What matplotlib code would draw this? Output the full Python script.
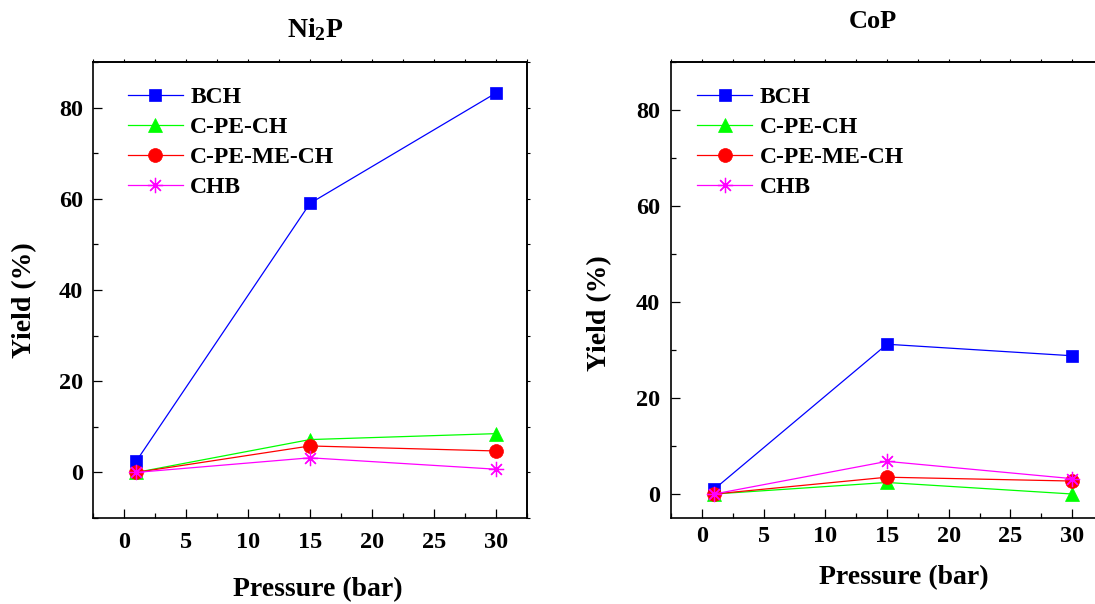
import numpy as np
import matplotlib
matplotlib.use("Agg")
import matplotlib.pyplot as plt
from matplotlib.ticker import MultipleLocator, NullFormatter

plt.rcParams['font.family'] = ['Liberation Serif', 'DejaVu Serif']
plt.rcParams['font.weight'] = 'bold'
plt.rcParams['mathtext.fontset'] = 'custom'
plt.rcParams['mathtext.rm'] = 'Liberation Serif:bold'
plt.rcParams['mathtext.it'] = 'Liberation Serif:bold'
plt.rcParams['mathtext.bf'] = 'Liberation Serif:bold'

# Data
pressure = [1, 15, 30]
series_names = ["BCH", "C-PE-CH", "C-PE-ME-CH", "CHB"]

ni2p_bch = [2.5, 59.0, 83.2]
ni2p_cpech = [0.0, 7.2, 8.5]
ni2p_cpemech = [0.0, 5.8, 4.7]
ni2p_chb = [0.0, 3.2, 0.7]

cop_bch = [1.0, 31.2, 28.8]
cop_cpech = [0.0, 2.4, 0.0]
cop_cpemech = [0.0, 3.5, 2.7]
cop_chb = [0.0, 6.8, 3.2]

styles = [
    dict(color="#0000ff", marker="s", ms=9),
    dict(color="#00ff00", marker="^", ms=10.5),
    dict(color="#ff0000", marker="o", ms=10),
    dict(color="#ff00ff", marker=(8, 2, 0), ms=11, mew=0.9),
]

fig = plt.figure(figsize=(10.95, 6.04), dpi=100)
W, H = 1095, 604


def make_axes(left_px, right_px, top_px, bottom_px):
    return fig.add_axes([left_px / W, 1 - bottom_px / H,
                         (right_px - left_px) / W, (bottom_px - top_px) / H])


ax1 = make_axes(93, 527, 62, 518)
ax2 = make_axes(671, 1103, 62, 518)

panels = [
    (ax1, [ni2p_bch, ni2p_cpech, ni2p_cpemech, ni2p_chb], (-10, 90)),
    (ax2, [cop_bch, cop_cpech, cop_cpemech, cop_chb], (-5, 90)),
]

for ax, data, ylim in panels:
    for name, vals, st in zip(series_names, data, styles):
        ax.plot(pressure, vals, color=st["color"], marker=st["marker"],
                markersize=st["ms"], markeredgewidth=st.get("mew", 0.5),
                markeredgecolor=st["color"], lw=0.9, label=name)
    ax.set_xlim(-2.5, 32.5)
    ax.set_ylim(*ylim)
    ax.xaxis.set_major_locator(MultipleLocator(5))
    ax.xaxis.set_minor_locator(MultipleLocator(2.5))
    ax.yaxis.set_major_locator(MultipleLocator(20))
    ax.yaxis.set_minor_locator(MultipleLocator(10))
    ax.tick_params(which='both', direction='in', width=0.9, labelsize=17.5)
    ax.tick_params(which='major', length=6.5)
    ax.tick_params(which='minor', length=3.5)
    for sp in ax.spines.values():
        sp.set_linewidth(1.2)
    ax.set_ylabel("Yield (%)", fontsize=20, fontweight='bold')
    ax.set_xlabel("Pressure (bar)", fontsize=20, fontweight='bold')

    # short outward ticks on the opposite sides
    top = ax.secondary_xaxis('top')
    top.xaxis.set_major_locator(MultipleLocator(2.5))
    top.xaxis.set_major_formatter(NullFormatter())
    top.tick_params(direction='out', length=2, width=0.8)
    top.spines['top'].set_linewidth(1.2)
    right = ax.secondary_yaxis('right')
    right.yaxis.set_major_locator(MultipleLocator(10))
    right.yaxis.set_major_formatter(NullFormatter())
    right.tick_params(direction='out', length=2, width=0.8)
    right.spines['right'].set_linewidth(1.2)

ax1.tick_params(axis='x', pad=10)
ax1.tick_params(axis='y', pad=7)
ax2.tick_params(axis='x', pad=6)
ax2.tick_params(axis='y', pad=8)

ax1.yaxis.set_label_coords(-0.129, 0.478)
ax2.yaxis.set_label_coords(-0.137, 0.45)
ax1.xaxis.set_label_coords(0.518, -0.129)
ax2.xaxis.set_label_coords(0.54, -0.103)

leg_kw = dict(loc='upper left', frameon=False, fontsize=17,
              handlelength=2.35, handletextpad=0.3, labelspacing=0.36,
              borderpad=0, borderaxespad=0, numpoints=1)
ax1.legend(bbox_to_anchor=(0.08, 0.946), **leg_kw)
ax2.legend(bbox_to_anchor=(0.06, 0.946), **leg_kw)

fig.text(315 / W, 1 - 30 / H, r"Ni$_2$P", fontsize=20, fontweight='bold',
         ha='center', va='center')
fig.text(873 / W, 1 - 22 / H, "CoP", fontsize=19, fontweight='bold',
         ha='center', va='center')

fig.savefig("out.png", dpi=100)
